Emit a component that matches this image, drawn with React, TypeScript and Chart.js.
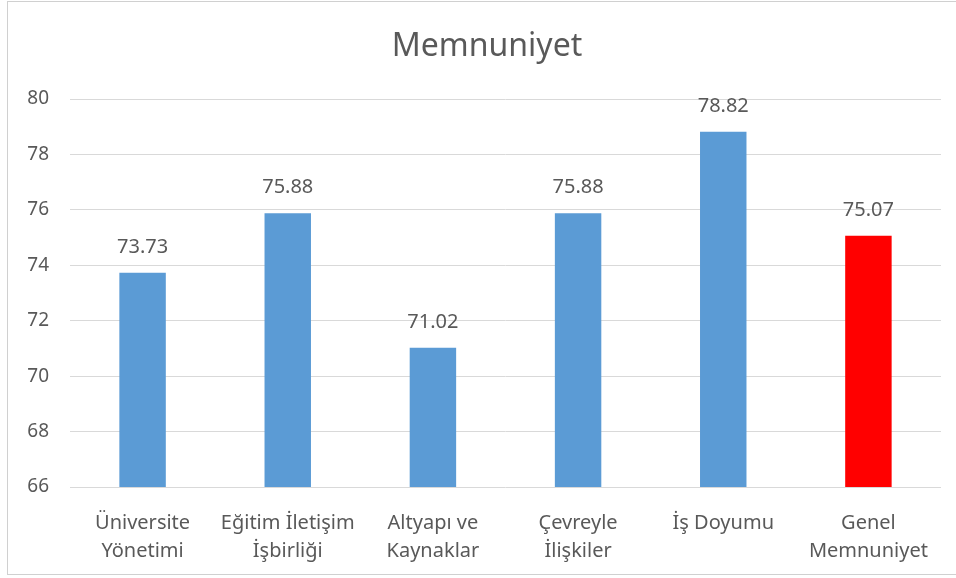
import React, { useEffect, useRef } from "react";
import { Chart, registerables } from "chart.js";

Chart.register(...registerables);

const titleText = "Memnuniyet";
const categories: string[][] = [
  ["Üniversite", "Yönetimi"],
  ["Eğitim İletişim", "İşbirliği"],
  ["Altyapı ve", "Kaynaklar"],
  ["Çevreyle", "İlişkiler"],
  ["İş Doyumu"],
  ["Genel", "Memnuniyet"],
];
const values: number[] = [73.73, 75.88, 71.02, 75.88, 78.82, 75.07];
const barColors: string[] = ["#5B9BD5", "#5B9BD5", "#5B9BD5", "#5B9BD5", "#5B9BD5", "#FF0000"];
const yMin = 66;
const yMax = 80;
const yStep = 2;

const FONT = "'Noto Sans', sans-serif";
const TEXT = "#595959";

const valueLabels = {
  id: "valueLabels",
  afterDatasetsDraw(chart: any) {
    const ctx = chart.ctx;
    const meta = chart.getDatasetMeta(0);
    ctx.save();
    ctx.font = `20px ${FONT}`;
    ctx.fillStyle = TEXT;
    ctx.textAlign = "center";
    ctx.textBaseline = "alphabetic";
    meta.data.forEach((bar: any, i: number) => {
      ctx.fillText(values[i].toFixed(2), bar.x, bar.y - 20);
    });
    ctx.restore();
  },
};

const customTitle = {
  id: "customTitle",
  afterDraw(chart: any) {
    const ctx = chart.ctx;
    ctx.save();
    ctx.font = `32px ${FONT}`;
    ctx.fillStyle = TEXT;
    ctx.textAlign = "center";
    ctx.textBaseline = "alphabetic";
    ctx.fillText(titleText, 487, 56);
    ctx.restore();
  },
};

export default function App() {
  const ref = useRef<HTMLCanvasElement | null>(null);
  useEffect(() => {
    if (!ref.current) return;
    const chart = new Chart(ref.current, {
      type: "bar",
      data: {
        labels: categories,
        datasets: [
          {
            data: values,
            backgroundColor: barColors,
            categoryPercentage: 1,
            barPercentage: 0.32,
          },
        ],
      },
      plugins: [valueLabels, customTitle],
      options: {
        animation: false,
        responsive: false,
        layout: { padding: { left: 18, right: 15, top: 99, bottom: 0 } },
        plugins: {
          legend: { display: false },
          tooltip: { enabled: false },
          title: { display: false },
        },
        scales: {
          x: {
            grid: { display: false, drawTicks: false },
            border: { display: false },
            ticks: {
              color: TEXT,
              font: { family: FONT, size: 20, lineHeight: 1.4 },
              padding: 22,
              maxRotation: 0,
              autoSkip: false,
            },
            afterFit: (s: any) => {
              s.height = 91;
            },
          },
          y: {
            min: yMin,
            max: yMax,
            grid: { color: "#D9D9D9", drawTicks: false, lineWidth: 1 },
            border: { display: false },
            ticks: {
              stepSize: yStep,
              color: TEXT,
              font: { family: FONT, size: 19 },
              padding: 21,
            },
            afterFit: (s: any) => {
              s.width = 52;
            },
          },
        },
      },
    });
    return () => chart.destroy();
  }, []);
  return (
    <div style={{ position: "absolute", left: 0, top: 0, width: 956, height: 578, background: "#fff", overflow: "hidden" }}>
      <div
        style={{
          position: "absolute",
          left: 7,
          top: 1,
          width: 960,
          height: 574,
          border: "1px solid #D0D0D0",
          boxSizing: "border-box",
        }}
      />
      <canvas ref={ref} width={956} height={578} style={{ position: "absolute", left: 0, top: 0 }} />
    </div>
  );
}
